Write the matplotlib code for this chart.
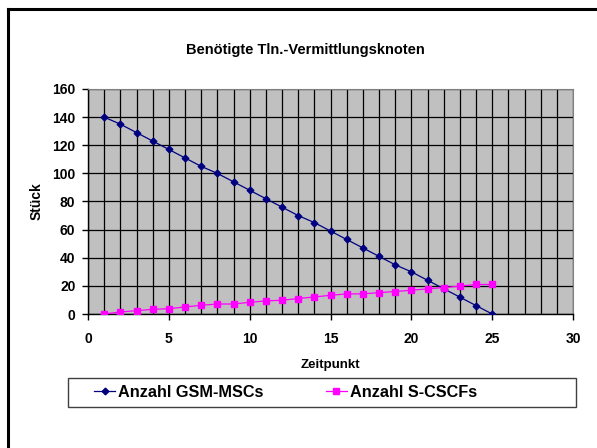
import matplotlib.pyplot as plt
import numpy as np
from matplotlib.lines import Line2D
from matplotlib.patches import Rectangle
from matplotlib.ticker import MultipleLocator

plt.rcParams['font.family'] = ['Liberation Sans', 'DejaVu Sans']

zeitpunkt = list(range(1, 26))
gsm_mscs = [140, 135, 129, 123, 117, 111, 105, 100, 94, 88, 82, 76, 70,
            65, 59, 53, 47, 41, 35, 30, 24, 18, 12, 6, 0]
s_cscfs = [0, 1.4, 2.4, 3.3, 3.8, 5, 6.2, 7.1, 7.1, 8.3, 9.3, 9.8, 11,
           12.1, 13.3, 14.3, 14.3, 15.2, 16, 16.9, 17.9, 18.8, 19.8, 21, 21]

fig = plt.figure(figsize=(5.97, 4.48), dpi=100)
ax = fig.add_axes([88 / 597, 134 / 448, 485 / 597, 225 / 448])
ax.set_facecolor('#C0C0C0')

ax.plot(zeitpunkt, gsm_mscs, color='#000080', lw=0.9, marker='D', ms=3.4,
        label='Anzahl GSM-MSCs', zorder=3)
ax.plot(zeitpunkt, s_cscfs, color='#FF00FF', lw=0.9, marker='s', ms=3.8,
        label='Anzahl S-CSCFs', zorder=3)

ax.set_xlim(0, 30)
ax.set_ylim(0, 160)
ax.xaxis.set_major_locator(MultipleLocator(5))
ax.xaxis.set_minor_locator(MultipleLocator(1))
ax.yaxis.set_major_locator(MultipleLocator(20))
ax.grid(True, which='both', axis='x', color='black', lw=0.9)
ax.grid(True, which='major', axis='y', color='black', lw=0.9)
ax.set_axisbelow(True)
ax.tick_params(axis='x', which='minor', length=0)
ax.tick_params(axis='both', which='major', length=4, width=1, labelsize=10)
ax.tick_params(axis='x', pad=9)
ax.tick_params(axis='y', pad=5)
for lbl in ax.get_xticklabels() + ax.get_yticklabels():
    lbl.set_fontweight('bold')

for s in ['top', 'right']:
    ax.spines[s].set_color('#808080')
for s in ['left', 'bottom']:
    ax.spines[s].set_color('black')
    ax.spines[s].set_linewidth(1)

ax.set_xlabel('Zeitpunkt', fontsize=9.5, fontweight='bold', labelpad=9)
ax.set_ylabel('Stück', fontsize=10, fontweight='bold', labelpad=6)
fig.text(305 / 597, 1 - 50 / 448, 'Benötigte Tln.-Vermittlungsknoten',
         ha='center', va='center', fontsize=10.5, fontweight='bold')

# Legendenrahmen
fig.add_artist(Rectangle((68 / 597, 41 / 448), 508 / 597, 29 / 448,
                         transform=fig.transFigure, facecolor='white',
                         edgecolor='#404040', lw=1))
leg = fig.legend(loc='center left', ncol=2, frameon=False,
                 bbox_to_anchor=(94 / 597, 55.5 / 448),
                 prop={'size': 11.7, 'weight': 'bold'}, handlelength=1.3,
                 borderaxespad=0, borderpad=0, handletextpad=0.2,
                 columnspacing=3.8, numpoints=1)

# Rahmen oben und links
fig.add_artist(Line2D([7.5 / 597, 1], [1 - 9.5 / 448, 1 - 9.5 / 448],
                      color='black', lw=2.2))
fig.add_artist(Line2D([7.5 / 597, 7.5 / 597], [0, 1 - 9.5 / 448],
                      color='black', lw=2.2))

fig.savefig('out.png', dpi=100)
